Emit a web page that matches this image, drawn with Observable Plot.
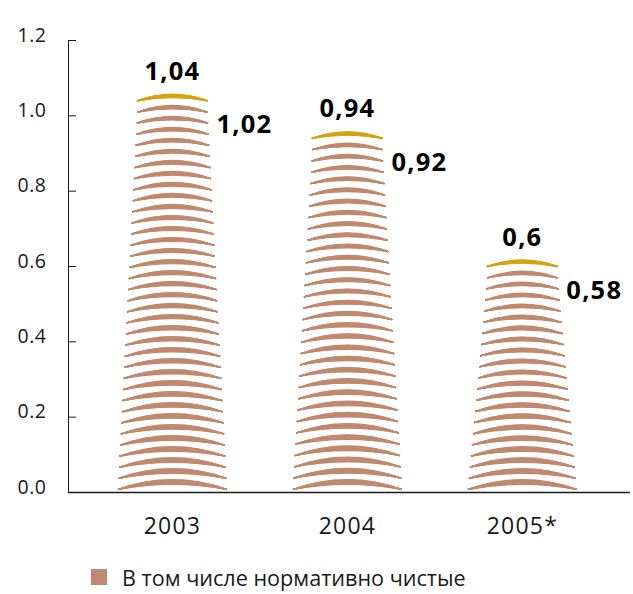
<!DOCTYPE html>
<html><head><meta charset="utf-8">
<script src="https://cdn.jsdelivr.net/npm/d3@7"></script>
<script src="https://cdn.jsdelivr.net/npm/@observablehq/plot@0.6"></script>
<style>
html,body{margin:0;padding:0;background:#fff;}
body{position:relative;width:633px;height:594px;font-family:"Open Sans",sans-serif;}
#legend{position:absolute;left:91px;top:560px;height:34px;display:flex;align-items:center;font-size:21.6px;color:#1a1a1a;}
#legend .sw{width:16px;height:16px;background:#c0896f;margin-right:15px;}
g[aria-label="text"] text{letter-spacing:1.2px;}
g[aria-label="x-axis tick label"] text{letter-spacing:1.2px;}
g[aria-label="y-axis tick label"] text{letter-spacing:0.5px;}
</style></head><body>
<div id="chart"></div>
<div id="legend"><span class="sw"></span><span id="legtext"></span></div>
<script>
const years = ["2003", "2004", "2005*"];
const total = [1.04, 0.94, 0.6];
const normative = [1.02, 0.92, 0.58];
const totalLabels = ["1,04", "0,94", "0,6"];
const normativeLabels = ["1,02", "0,92", "0,58"];
const yTicks = [0, 0.2, 0.4, 0.6, 0.8, 1.0, 1.2];
const legendLabel = "В том числе нормативно чистые";

const brown = "#c0896f", gold = "#d6a30f", ink = "#1a1a1a";
const W = 633, H = 550, mL = 68, mR = 3;
const xDomain = [-0.094, 3.118];
const pxPerUnit = (W - mL - mR) / (xDomain[1] - xDomain[0]);
const bottomHalf = 54.5 / pxPerUnit, topHalf = 35 / pxPerUnit, goldHalf = 35.5 / pxPerUnit;
const stripeGap = 0.0297, stripeBase = 0.008, topInset = 0.01;
const bends = d3.range(10.5, 20.6, 1.25);

const bars = years.map((year, i) => ({
  year, x: i + 0.5, total: total[i], normative: normative[i],
  tl: totalLabels[i], nl: normativeLabels[i]
}));

const stripes = [];
for (const b of bars) {
  const top = b.normative - topInset;
  const n = Math.round((top - stripeBase) / stripeGap);
  for (let k = 0; k <= n; k++) {
    const t = k / n;
    const v = stripeBase + (top - stripeBase) * t;
    const hw = bottomHalf + (topHalf - bottomHalf) * t;
    stripes.push({x1: b.x - hw, x2: b.x + hw, y: v});
  }
}
const caps = bars.map(b => ({x1: b.x - goldHalf, x2: b.x + goldHalf, y: b.total}));

const arcMarks = (data, color) => bends.map(bend => Plot.arrow(data, {
  x1: "x1", x2: "x2", y1: "y", y2: "y", bend, headLength: 0,
  stroke: color, strokeWidth: 1.3, strokeLinecap: "butt"
}));

const chart = Plot.plot({
  width: W, height: H,
  marginLeft: mL, marginRight: mR, marginTop: 40, marginBottom: H - 492,
  x: {domain: xDomain, axis: null},
  y: {domain: [0, 1.2], axis: null},
  style: {fontFamily: "Open Sans, sans-serif", color: ink, background: "#fff"},
  marks: [
    ...arcMarks(stripes, brown),
    ...arcMarks(caps, gold),
    Plot.frame({anchor: "left", stroke: ink, strokeWidth: 1}),
    Plot.ruleY([0], {stroke: ink, strokeWidth: 1.5}),
    Plot.axisY({ticks: yTicks, tickSize: 8, dx: 8, tickFormat: () => "", stroke: ink}),
    Plot.axisY({ticks: yTicks, tickSize: 0, tickPadding: 22, tickFormat: d3.format(".1f"),
      lineAnchor: "bottom", dy: 1, fontSize: 19.5, fill: ink}),
    Plot.axisX({ticks: bars.map(b => b.x), tickSize: 0, tickPadding: 25,
      tickFormat: d => years[Math.floor(d)], fontSize: 23, fill: ink}),
    Plot.text(bars, {x: "x", y: "total", text: "tl", lineAnchor: "bottom", dy: -21,
      fontSize: 25.5, fontWeight: "bold", fill: "#000"}),
    Plot.text(bars, {x: "x", y: "normative", text: "nl", lineAnchor: "bottom", dy: 25, dx: 44,
      textAnchor: "start", fontSize: 25.5, fontWeight: "bold", fill: "#000"})
  ]
});
document.getElementById("chart").append(chart);
document.getElementById("legtext").textContent = legendLabel;
</script>
</body></html>
